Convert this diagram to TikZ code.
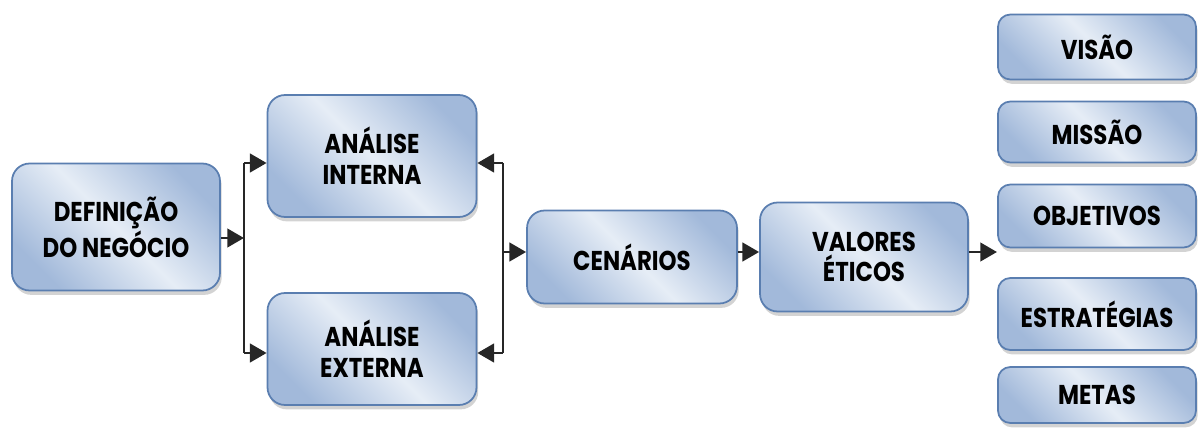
\documentclass[tikz,border=0pt]{standalone}
\usepackage{fontspec}
\setmainfont{Poppins}[FakeStretch=0.84]
\usetikzlibrary{arrows.meta,shadows}
\definecolor{boxlight}{HTML}{E6EDF6}
\definecolor{boxdark}{HTML}{A2B9DA}
\definecolor{boxline}{HTML}{5A7EB0}
\begin{document}
\begin{tikzpicture}
  [x=0.02cm,y=-0.02cm,
   box/.style={rectangle,rounded corners=10pt,draw=boxline,line width=1pt,
     top color=boxdark,bottom color=boxdark,middle color=boxlight,shading angle=-45,
     drop shadow={shadow xshift=1pt,shadow yshift=-2.5pt,opacity=0.35},
     align=center,font=\bfseries\fontsize{15.5}{17.5}\selectfont,inner sep=0pt},
   small/.style={box,rounded corners=7pt,minimum width=3.96cm},
   link/.style={draw=black!85,line width=1.7pt},
   arr/.style={link,-{Triangle[length=9.5pt,width=10.5pt]}}]
  \useasboundingbox (0,0) rectangle (1198,429);

  \node[box,minimum width=4.16cm,minimum height=2.54cm] (def) at (116,227) {DEFINIÇÃO\\DO NEGÓCIO};
  \node[box,minimum width=4.18cm,minimum height=2.44cm] (ai) at (372,156) {ANÁLISE\\INTERNA};
  \node[box,minimum width=4.18cm,minimum height=2.24cm] (ae) at (372,349) {ANÁLISE\\EXTERNA};
  \node[box,minimum width=4.2cm,minimum height=1.86cm] (cen) at (632,257) {CENÁRIOS};
  \node[box,minimum width=4.16cm,minimum height=2.18cm] (val) at (864,257) {VALORES\\ÉTICOS};

  \node[small,minimum height=1.3cm] (vis) at (1097,47) {VISÃO};
  \node[small,minimum height=1.22cm] (mis) at (1097,132) {MISSÃO};
  \node[small,minimum height=1.26cm] (obj) at (1097,216) {OBJETIVOS};
  \node[small,minimum height=1.44cm] (est) at (1097,314) {ESTRATÉGIAS};
  \node[small,minimum height=1.12cm] (met) at (1097,395) {METAS};

  \coordinate (lm) at (244,238);
  \coordinate (lt) at (244,163);
  \coordinate (lb) at (244,353);
  \coordinate (rm) at (503,252);
  \coordinate (rt) at (503,163);
  \coordinate (rb) at (503,353);
  \coordinate (out) at (997,252);

  \draw[link] (lt) -- (lb);
  \draw[link] (rt) -- (rb);
  \draw[arr] (def.east |- lm) -- (lm);
  \foreach \from/\to in {lt/ai.west,lb/ae.west,rt/ai.east,rb/ae.east,rm/cen.west}
    \draw[arr] (\from) -- (\to |- \from);
  \draw[arr] (cen.east |- rm) -- (val.west |- rm);
  \draw[arr] (val.east |- rm) -- (out);

\end{tikzpicture}
\end{document}
